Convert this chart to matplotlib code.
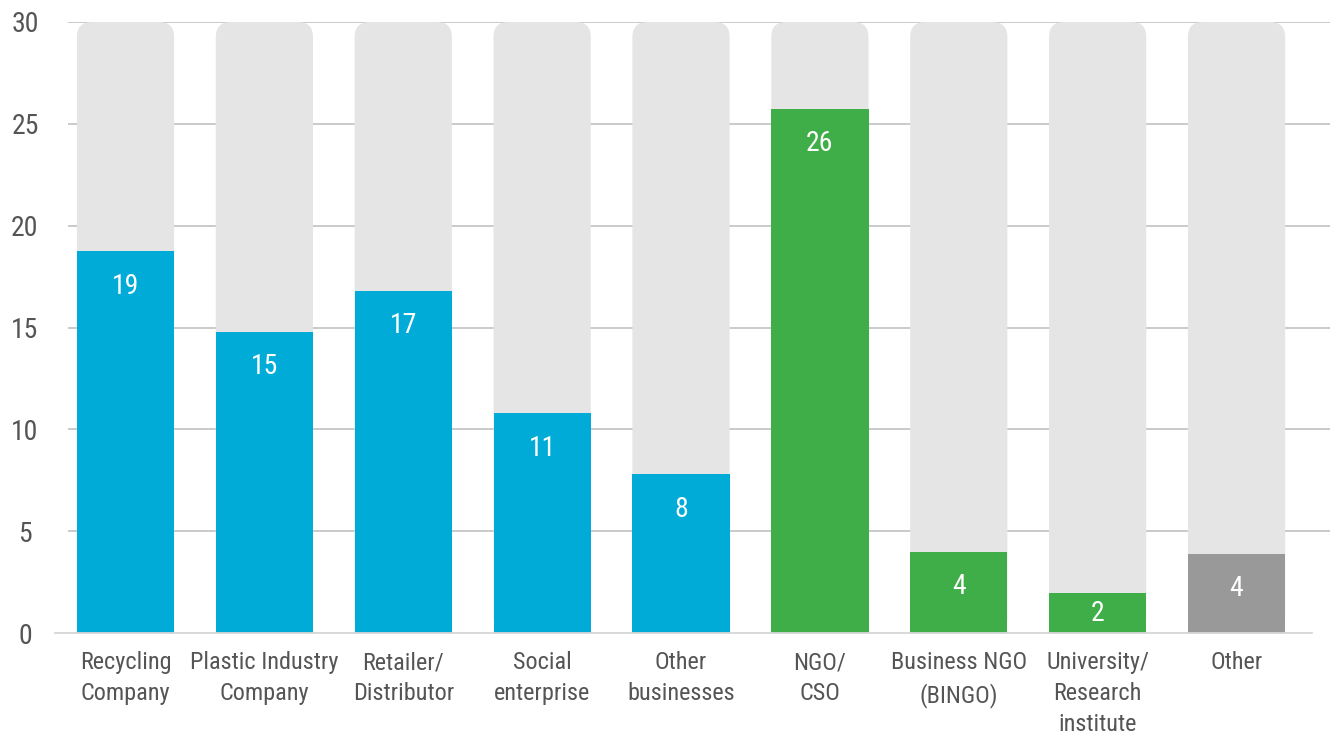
import matplotlib.pyplot as plt
from matplotlib.patches import FancyBboxPatch
from matplotlib import font_manager

# Data
categories = ["Recycling\nCompany", "Plastic Industry\nCompany", "Retailer/\nDistributor",
              "Social\nenterprise", "Other\nbusinesses", "NGO/\nCSO", "Business NGO\n(BINGO)",
              "University/\nResearch\ninstitute", "Other"]
values = [18.75, 14.8, 16.8, 10.8, 7.8, 25.75, 4.0, 1.95, 3.9]
labels = ["19", "15", "17", "11", "8", "26", "4", "2", "4"]
groups = ["business"] * 5 + ["ngo"] * 3 + ["other"]
ymax = 30

colors = {"business": "#00acd7", "ngo": "#3fae49", "other": "#999999"}

names = {f.name for f in font_manager.fontManager.ttflist}
fam = "DejaVu Sans"
for cand in ["Roboto Condensed", "Liberation Sans Narrow", "Lato"]:
    if cand in names:
        fam = cand
        break
plt.rcParams['font.family'] = [fam, 'DejaVu Sans']
plt.rcParams['font.weight'] = 'light'

fig = plt.figure(figsize=(13.3, 7.35), dpi=100)
ax = fig.add_axes([68 / 1330, 102 / 735, 1 - 68 / 1330, (633 - 22) / 735])
ax.set_xlim(-0.414, 8.673)
ax.set_ylim(0, ymax)

# grid
for y in range(5, 31, 5):
    ax.axhline(y, color="#c6c6c6", lw=1.3, zorder=0)
ax.plot([-0.51, 8.54], [0, 0], color="#d6d6d6", lw=1.3, clip_on=False, zorder=5)

w = 0.70
px_x = 139.0
px_y = 611 / 30
aspect = px_x / px_y
r = 15 / px_x
for i, v in enumerate(values):
    bg = FancyBboxPatch((i - w / 2, 0), w, ymax,
                        boxstyle=f"round,pad=0,rounding_size={r}",
                        mutation_aspect=aspect, fc="#e5e5e5", ec="none", zorder=1)
    ax.add_patch(bg)
    ax.bar(i, v, width=w, color=colors[groups[i]], zorder=2)
    off = min(35, (v * px_y) / 2) * 0.72
    ax.annotate(labels[i], (i, v), xytext=(0, -off), textcoords="offset points",
                ha="center", va="center", color="white", fontsize=20,
                fontweight="normal", zorder=3)

ax.set_xticks(range(len(categories)))
ax.set_xticklabels(categories, fontsize=17.5, color="#555555", linespacing=1.45,
                   va="top", fontweight="normal")
ax.tick_params(axis="x", length=0, pad=13)
ax.set_yticks(range(0, 31, 5))
ax.set_yticklabels([str(t) for t in range(0, 31, 5)], fontsize=20, color="#555555",
                   ha="center", fontweight="normal")
ax.tick_params(axis="y", length=0, pad=31)
for s in ax.spines.values():
    s.set_visible(False)

fig.savefig("out.png", dpi=100)
